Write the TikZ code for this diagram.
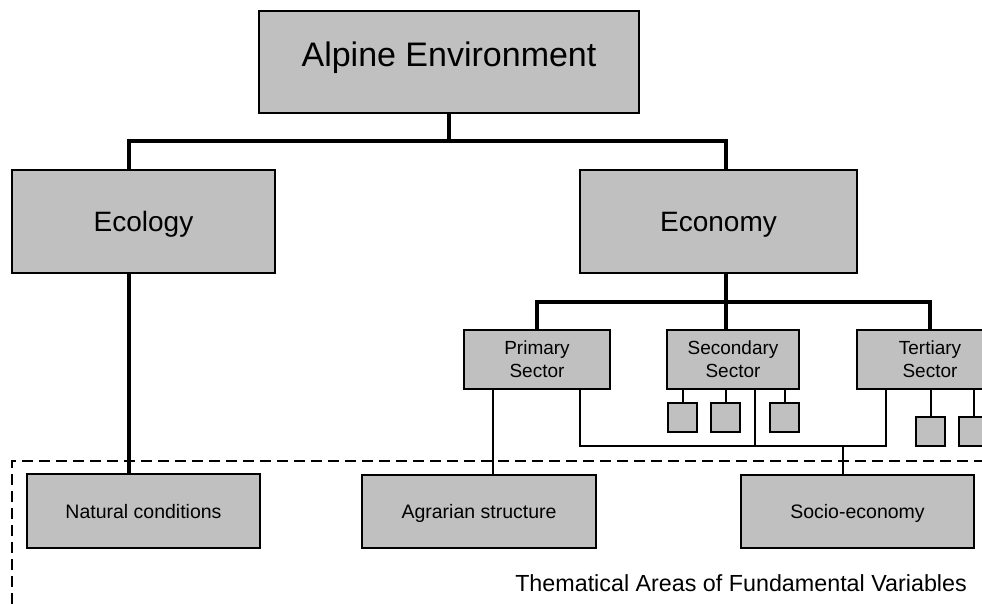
\documentclass[tikz,border=0pt]{standalone}
\usepackage{fontspec}
\setmainfont{Liberation Sans}
\definecolor{boxgray}{HTML}{C0C0C0}
\begin{document}
\begin{tikzpicture}[x=1pt,y=-1pt,
  box/.style={draw=black, fill=boxgray, line width=1.4pt, inner sep=0pt,
    outer sep=0pt, anchor=north west, align=center},
  sized/.style n args={2}{minimum width=#1pt, minimum height=#2pt},
  bigtext/.style={font=\fontsize{34}{40}\selectfont},
  midtext/.style={font=\fontsize{28}{33}\selectfont, text height=20pt, text depth=0pt},
  smalltext/.style={font=\fontsize{19}{23}\selectfont},
  lowtext/.style={font=\fontsize{19.5}{23}\selectfont, text height=14pt, text depth=0pt},
  heavy/.style={line width=4pt},
  light/.style={line width=2pt},
  frame/.style={line width=2pt, dash pattern=on 11pt off 6pt}]
\useasboundingbox (0,0) rectangle (982,604);
\clip (0,0) rectangle (982,604);
\fill[white] (0,0) rectangle (982,604);

% top level
\node[box, sized={380}{102}, bigtext, text height=10pt, text depth=0pt] (alp) at (259,11) {Alpine Environment};

% second level
\node[box, sized={263}{103}, midtext] (ecol) at (12,170) {Ecology};
\node[box, sized={277}{103}, midtext] (econ) at (580,170) {Economy};

% economic sectors
\node[box, sized={146}{59}, smalltext] (prim) at (464,330) {Primary\\Sector};
\node[box, sized={132}{59}, smalltext] (sec) at (667,330) {Secondary\\Sector};
\node[box, sized={146}{59}, smalltext] (ter) at (857,330) {Tertiary\\Sector};

% branch boxes under the sectors
\node[box, sized={29}{29}] (s1) at (668,403) {};
\node[box, sized={29}{29}] (s2) at (711,403) {};
\node[box, sized={29}{29}] (s3) at (770,403) {};
\node[box, sized={29}{29}] (t1) at (916,417) {};
\node[box, sized={29}{29}] (t2) at (959,417) {};

% thematic areas
\draw[frame] (12,604) -- (12,461) -- (982,461);
\node[box, sized={233}{74}, lowtext] (nat) at (27,474) {Natural conditions};
\node[box, sized={234}{73}, lowtext] (agr) at (362,475) {Agrarian structure};
\node[box, sized={233}{73}, lowtext] (soc) at (741,475) {Socio-economy};
\node[anchor=base east, inner sep=0pt, font=\fontsize{23.3}{28}\selectfont] (cap) at (967,591)
  {Thematical Areas of Fundamental Variables};

% upper tree
\coordinate (bus1) at (449,141);
\draw[heavy] (alp.south) -- (bus1);
\draw[heavy] (bus1) -| ([xshift=-14.5pt]ecol.north);
\draw[heavy] (bus1) -| ([xshift=7.5pt]econ.north);
\draw[heavy] ([xshift=-14.5pt]ecol.south) -- ([xshift=-14.5pt]nat.north);
\draw[heavy] ([xshift=7.5pt]econ.south) -- ([xshift=-7pt]sec.north);
\draw[heavy] (prim.north) -- ++(0,-28) -| (ter.north);

% lower links
\draw[light] (s1.north) -- (s1.north |- sec.south);
\draw[light] (s2.north) -- (s2.north |- sec.south);
\draw[light] (s3.north) -- (s3.north |- sec.south);
\draw[light] (t1.north) -- (t1.north |- ter.south);
\draw[light] (t2.north) -- (t2.north |- ter.south);
\draw[light] ([xshift=-44pt]prim.south) -- ([xshift=14pt]agr.north);
\coordinate (lb) at (843,446);
\draw[light] ([xshift=43pt]prim.south) |- (lb) -| ([xshift=-44pt]ter.south);
\draw[light] ([xshift=22pt]sec.south) -- ([xshift=22pt]sec.south |- lb);
\draw[light] (lb) -- (lb |- soc.north);
\end{tikzpicture}
\end{document}
